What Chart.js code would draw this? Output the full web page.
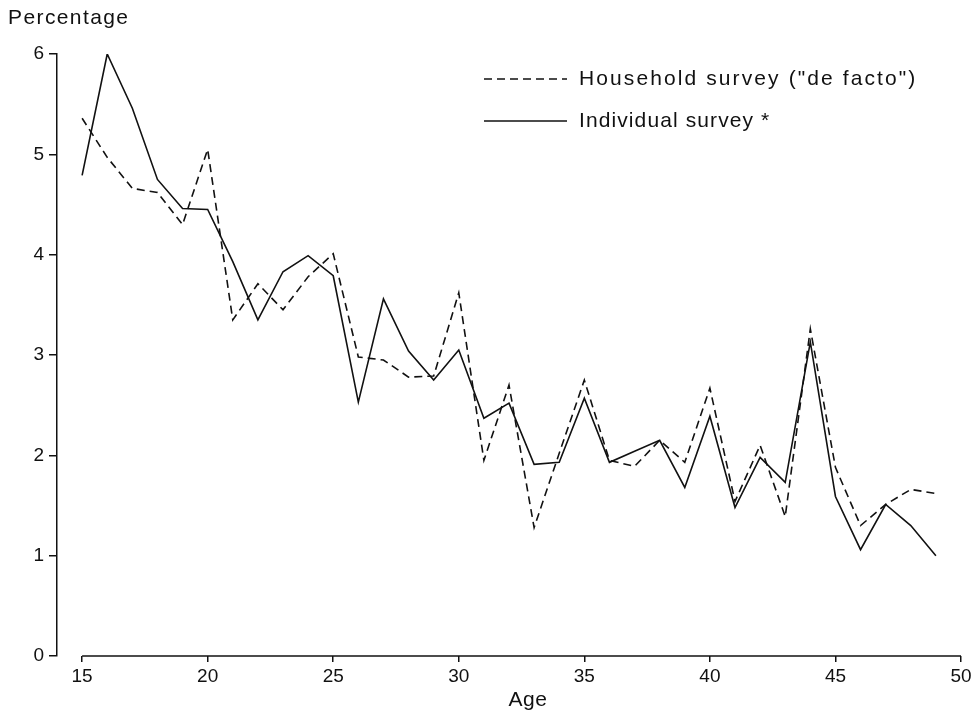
<!DOCTYPE html>
<html>
<head>
<meta charset="utf-8">
<script src="https://cdn.jsdelivr.net/npm/chart.js@4"></script>
<style>
  body { margin: 0; background: #fff; }
  canvas { display: block; }
</style>
</head>
<body>
<canvas id="ageChart" width="976" height="711"></canvas>
<script>
// Age distribution of women, two surveys compared
var ages = [15, 16, 17, 18, 19, 20, 21, 22, 23, 24, 25, 26, 27, 28, 29, 30, 31, 32,
            33, 34, 35, 36, 37, 38, 39, 40, 41, 42, 43, 44, 45, 46, 47, 48, 49];
var household = [5.36, 4.97, 4.66, 4.62, 4.30, 5.05, 3.35, 3.71, 3.45, 3.78, 4.01, 2.98,
                 2.95, 2.78, 2.79, 3.62, 1.95, 2.70, 1.28, 2.02, 2.75, 1.95, 1.89, 2.15,
                 1.93, 2.67, 1.54, 2.10, 1.39, 3.26, 1.88, 1.30, 1.51, 1.66, 1.62];
var individual = [4.79, 6.00, 5.46, 4.75, 4.46, 4.45, 3.93, 3.35, 3.83, 3.99, 3.79, 2.53,
                  3.56, 3.04, 2.75, 3.05, 2.37, 2.52, 1.91, 1.93, 2.57, 1.93, 2.04, 2.15,
                  1.68, 2.39, 1.48, 1.98, 1.73, 3.13, 1.59, 1.06, 1.51, 1.30, 1.00];
var xTicks = [15, 20, 25, 30, 35, 40, 45, 50];
var yTicks = [0, 1, 2, 3, 4, 5, 6];
var seriesLabels = ['Household survey ("de facto")', 'Individual survey *'];

var ink = '#111';
var fontFamily = '"Liberation Sans", Arial, sans-serif';

function toPoints(vals) {
    return ages.map(function (a, i) { return { x: a, y: vals[i] }; });
}

// axis line for x (gap at the left like the original) + texts + legend
var extras = {
    id: 'extras',
    afterDraw: function (chart) {
        var c = chart.ctx;
        var xs = chart.scales.x;
        var area = chart.chartArea;
        c.save();
        c.strokeStyle = ink;
        c.lineWidth = 1.5;
        c.beginPath();
        c.moveTo(xs.getPixelForValue(xTicks[0]), area.bottom);
        c.lineTo(xs.getPixelForValue(xTicks[xTicks.length - 1]), area.bottom);
        c.stroke();

        c.fillStyle = ink;
        c.textBaseline = 'middle';
        c.textAlign = 'left';
        c.font = '21px ' + fontFamily;
        c.letterSpacing = '1.4px';
        c.fillText('Percentage', 8, 18);
        c.textAlign = 'center';
        c.font = '21px ' + fontFamily;
        c.letterSpacing = '0.5px';
        c.fillText('Age', 528, 700);

        // legend
        c.textAlign = 'left';
        c.font = '21px ' + fontFamily;
        var rows = [{ y: 79, dash: [8, 5], sp: '2.1px' }, { y: 121, dash: [], sp: '1.1px' }];
        rows.forEach(function (r, i) {
            c.setLineDash(r.dash);
            c.lineWidth = 1.5;
            c.beginPath();
            c.moveTo(484, r.y);
            c.lineTo(567, r.y);
            c.stroke();
            c.setLineDash([]);
            c.letterSpacing = r.sp;
            c.fillText(seriesLabels[i], 579, r.y);
        });
        c.restore();
    }
};

var ctx = document.getElementById('ageChart').getContext('2d');
var ageChart = new Chart(ctx, {
    type: 'line',
    data: {
        datasets: [{
            label: seriesLabels[0],
            data: toPoints(household),
            borderColor: ink,
            borderWidth: 1.6,
            borderDash: [8, 5],
            pointRadius: 0,
            tension: 0,
            fill: false
        }, {
            label: seriesLabels[1],
            data: toPoints(individual),
            borderColor: ink,
            borderWidth: 1.6,
            pointRadius: 0,
            tension: 0,
            fill: false
        }]
    },
    options: {
        responsive: false,
        animation: false,
        layout: { padding: { left: 0, right: 15, top: 54, bottom: 0 } },
        plugins: {
            legend: { display: false },
            tooltip: { enabled: false }
        },
        scales: {
            x: {
                type: 'linear',
                min: 14,
                max: 50,
                afterBuildTicks: function (s) {
                    s.ticks = xTicks.map(function (v) { return { value: v }; });
                },
                afterFit: function (s) { s.height = 55; },
                border: { display: false },
                grid: { drawOnChartArea: false, drawTicks: true, tickLength: 6, color: ink, lineWidth: 1.5 },
                ticks: {
                    autoSkip: false,
                    maxRotation: 0,
                    padding: 3,
                    color: ink,
                    font: { family: fontFamily, size: 19 }
                }
            },
            y: {
                min: 0,
                max: 6,
                afterBuildTicks: function (s) {
                    s.ticks = yTicks.map(function (v) { return { value: v }; });
                },
                afterFit: function (s) { s.width = 57; },
                border: { display: true, color: ink, width: 1.5 },
                grid: { drawOnChartArea: false, drawTicks: true, tickLength: 8, color: ink, lineWidth: 1.5 },
                ticks: {
                    padding: 5,
                    color: ink,
                    font: { family: fontFamily, size: 19 }
                }
            }
        }
    },
    plugins: [extras]
});
</script>
</body>
</html>
